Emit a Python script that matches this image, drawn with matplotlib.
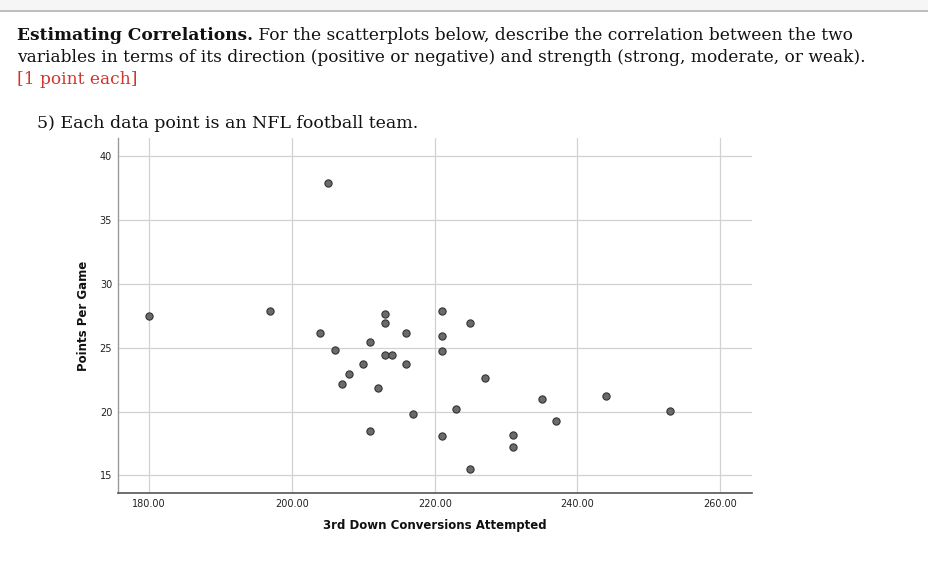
#! /usr/bin/env python3

import matplotlib
matplotlib.use("Agg")
import matplotlib.pyplot as plt
from matplotlib.patches import Rectangle
from matplotlib.lines import Line2D


# Worksheet text
heading_bold = "Estimating Correlations."
heading_rest = " For the scatterplots below, describe the correlation between the two"
heading_line2 = "variables in terms of its direction (positive or negative) and strength (strong, moderate, or weak)."
points_note = "[1 point each]"
question = "5) Each data point is an NFL football team."

# NFL teams: 3rd down conversions attempted vs points per game
third_down_att = [180, 197, 205, 204, 213, 213, 216, 221, 221, 206, 211,
                  213, 214, 221, 210, 216, 208, 207, 212, 217, 223, 211,
                  221, 225, 227, 235, 244, 253, 237, 231, 231, 225]
points_per_game = [27.45, 27.84, 37.9, 26.14, 27.6, 26.9, 26.14, 27.84,
                   25.94, 24.84, 25.44, 24.42, 24.42, 24.74, 23.72, 23.72,
                   22.94, 22.13, 21.85, 19.84, 20.16, 18.46, 18.07, 26.92,
                   22.63, 20.94, 21.25, 20.05, 19.24, 18.15, 17.24, 15.47]

x_ticks = [180, 200, 220, 240, 260]
y_ticks = [15, 20, 25, 30, 35, 40]

W, H = 929, 587
fig = plt.figure(figsize=(W / 100, H / 100), dpi=100)


def fx(px):
    return px / W


def fy(py):
    return 1 - py / H


# grey browser strip at the top of the page
fig.patches.append(Rectangle((0, fy(10.5)), 1, 1 - fy(10.5), transform=fig.transFigure,
                             facecolor="#f6f6f6", edgecolor="none"))
fig.lines.append(Line2D([0, 1], [fy(10.5), fy(10.5)], transform=fig.transFigure,
                        color="#b4b4b4", lw=1.2))

serif = "DejaVu Serif"
renderer = fig.canvas.get_renderer()

# size the body text so the second line spans the same width as the page
probe = fig.text(0, 0, heading_line2, family=serif, fontsize=10)
w10 = probe.get_window_extent(renderer).width
probe.remove()
fs = 10 * (868 - 17) / w10

txt = "#111111"
t1 = fig.text(fx(17), fy(35), heading_bold, family=serif, weight="bold",
              fontsize=fs, va="center", color=txt)
x_rest = t1.get_window_extent(renderer).x1
fig.text(x_rest / W, fy(35), heading_rest, family=serif, fontsize=fs,
         va="center", color=txt)
fig.text(fx(17), fy(58), heading_line2, family=serif, fontsize=fs,
         va="center", color=txt)
fig.text(fx(17), fy(80), points_note, family=serif, fontsize=fs,
         va="center", color="#d2352b")
fig.text(fx(37), fy(123), question, family=serif, fontsize=fs * 1.02,
         va="center", color=txt)

# scatterplot
left, right, top, bottom = 117.7, 751.7, 138, 493.3
ax = fig.add_axes([fx(left), fy(bottom), fx(right - left), fy(top) - fy(bottom)])
ax.set_xlim(175.6, 264.4)
ax.set_ylim(13.6, 41.4)

ax.scatter(third_down_att, points_per_game, s=27, facecolor="#6a6a6a",
           edgecolor="#333333", linewidth=0.8, zorder=3)

ax.set_xticks(x_ticks)
ax.set_xticklabels([f"{v:.2f}" for v in x_ticks])
ax.set_yticks(y_ticks)
ax.tick_params(length=0, labelsize=7, colors="#222222", pad=4)
ax.grid(True, color="#d2d2d2", linewidth=0.9)
ax.set_axisbelow(True)

for side in ["top", "right"]:
    ax.spines[side].set_visible(False)
ax.spines["left"].set_color("#9a9a9a")
ax.spines["bottom"].set_color("#555555")
ax.spines["left"].set_linewidth(1.0)
ax.spines["bottom"].set_linewidth(1.2)

ax.set_xlabel("3rd Down Conversions Attempted", fontsize=8.5,
              fontweight="bold", family="DejaVu Sans", labelpad=7, color=txt)
ax.set_ylabel("Points Per Game", fontsize=8.5, fontweight="bold",
              family="DejaVu Sans", labelpad=7, color=txt)

fig.savefig("out.png", dpi=100)
